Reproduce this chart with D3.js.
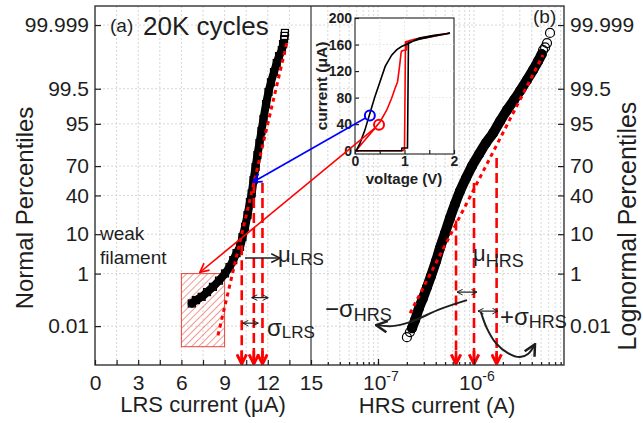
<!DOCTYPE html>
<html>
<head>
<meta charset="utf-8">
<title>LRS / HRS current distributions</title>
<style>
  body { margin: 0; background: #fff; }
  svg { display: block; font-family: "Liberation Sans", Arial, sans-serif; }
</style>
</head>
<body>
<div id="viz"></div>
<script src="https://cdnjs.cloudflare.com/ajax/libs/d3/7.8.5/d3.min.js"></script>
<script>

// ---- data ----
var yTickPct = [0.01, 1, 10, 40, 70, 95, 99.5, 99.999];
var yTickLabels = ["0.01", "1", "10", "40", "70", "95", "99.5", "99.999"];
var lrsTicks = [0, 1.5, 3, 4.5, 6, 7.5, 9, 10.5, 12, 13.5, 15];
var hrsTicks = [1e-7, 1e-6];

// LRS current (uA) vs normal percentile
var lrsCurrent = [6.72, 7.01, 7.41, 7.78, 8.19, 8.61, 9.03, 9.34, 9.60, 9.83, 10.07, 10.24, 10.42, 10.59, 10.76, 10.88,
  11.01, 11.15, 11.28, 11.42, 11.56, 11.70, 11.88, 12.05, 12.22, 12.43, 12.62, 12.78, 12.97, 13.06, 13.13, 13.16, 13.19];
var lrsPct = [0.091, 0.123, 0.163, 0.242, 0.371, 0.60, 1.01, 1.56, 2.45, 3.73, 5.3, 8.7, 13.9, 21.9, 33.4, 42.1,
  56.1, 69.1, 79.3, 87.2, 92.7, 96.2, 98.5, 99.36, 99.70, 99.873, 99.944, 99.971, 99.984, 99.9915, 99.995, 99.9965, 99.9975];

// HRS current (A) vs lognormal percentile
var hrsCurrent = [2.00e-7, 2.15e-7, 2.26e-7, 2.43e-7, 2.67e-7, 2.94e-7, 3.24e-7, 3.56e-7, 4.02e-7, 4.42e-7, 4.99e-7,
  5.62e-7, 6.34e-7, 7.15e-7, 8.26e-7, 9.53e-7, 1.13e-6, 1.33e-6, 1.58e-6, 1.87e-6, 2.21e-6, 2.61e-6, 3.01e-6,
  3.56e-6, 4.12e-6, 4.65e-6, 5.07e-6, 5.24e-6, 5.50e-6, 5.76e-6, 6.19e-6];
var hrsPct = [0.0030, 0.0053, 0.0081, 0.0185, 0.0594, 0.146, 0.363, 0.836, 2.30, 4.95, 10.5,
  19.7, 31.5, 44.5, 58.2, 70.0, 80.0, 87.2, 91.9, 95.7, 97.8, 98.86, 99.40,
  99.75, 99.893, 99.953, 99.976, 99.984, 99.988, 99.9924, 99.9975];

// fits (end points of the red dotted lines)
var lrsFitCurrent = [8.54, 13.33], lrsFitPct = [0.0037, 99.993];
var hrsFitCurrent = [2.16e-7, 5.24e-6], hrsFitPct = [0.037, 99.974];

// mu - sigma, mu, mu + sigma markers
var lrsMarkCurrent = [10.19, 11.03, 11.63], lrsMarkTopPct = [5.8, 53, 53];
var hrsMarkCurrent = [6.5e-7, 1.0e-6, 1.72e-6], hrsMarkTopPct = [18, 53, 77];

// weak filament box
var weakBoxCurrent = [6, 9], weakBoxPct = [0.001, 1];

// inset I-V (V, uA)
var ivBlackV = [0, 0.94, 0.95, 1.06, 1.08, 1.3, 1.6, 1.92, 1.6, 1.3, 1.09, 0.94, 0.84, 0.74, 0.61, 0.505, 0.40, 0.30, 0.20, 0.10, 0.03, 0];
var ivBlackI = [0, 0, 4, 4, 163, 168, 173, 177, 174, 170, 162, 157, 152, 144, 127, 104, 81, 56, 31, 11, 1, 0];
var ivRedV = [0, 0.97, 1.0, 1.02, 1.2, 1.5, 1.9, 1.5, 1.1, 1.05, 1.04, 0.97, 0.94, 0.93, 0.90, 0.86, 0.81, 0.74, 0.64, 0.51, 0.37, 0.20, 0.03, 0];
var ivRedI = [0, 0, 2, 164, 168, 172, 177, 171, 166, 164, 152, 151, 150, 147, 127, 104, 94, 79, 61, 44, 31, 16, 1, 0];
var blueCircle = [0.30, 53], redCircle = [0.485, 39];
var blueTarget = [10.97, 54], redTarget = [7.29, 1.1];

// annotation arrows
var muLrsArrow = [[10.42, 2.77], [12.85, 2.77]];
var sdLrsArrows = [[[10.88, 0.152], [12.03, 0.152]], [[10.26, 0.0136], [11.34, 0.0136]]];
var sdHrsArrows = [[[6.65e-7, 0.242], [1.075e-6, 0.242]], [[1.10e-6, 0.0449], [1.78e-6, 0.0449]]];
var minusArrow = [[8.45e-7, 0.122], [4.43e-7, 0.054], [2.15e-7, 0.0151], [1.40e-7, 0.0100], [9.53e-8, 0.0111]];
var plusArrow = [[1.18e-6, 0.0407], [1.36e-6, 0.0081], [1.69e-6, 0.00152], [2.26e-6, 0.00046], [3.01e-6, 0.00028], [3.65e-6, 0.00041], [4.32e-6, 0.00134]];

// inverse normal CDF (Acklam)
function probit(p) {
  var a = [-3.969683028665376e+01, 2.209460984245205e+02, -2.759285104469687e+02, 1.383577518672690e+02, -3.066479806614716e+01, 2.506628277459239e+00];
  var b = [-5.447609879822406e+01, 1.615858368580409e+02, -1.556989798598866e+02, 6.680131188771972e+01, -1.328068155288572e+01];
  var c = [-7.784894002430293e-03, -3.223964580411365e-01, -2.400758277161838e+00, -2.549732539343734e+00, 4.374664141464968e+00, 2.938163982698783e+00];
  var d = [7.784695709041462e-03, 3.224671290700398e-01, 2.445134137142996e+00, 3.754408661907416e+00];
  var q, r;
  if (p < 0.02425) {
    q = Math.sqrt(-2 * Math.log(p));
    return (((((c[0]*q+c[1])*q+c[2])*q+c[3])*q+c[4])*q+c[5]) / ((((d[0]*q+d[1])*q+d[2])*q+d[3])*q+1);
  }
  if (p <= 1 - 0.02425) {
    q = p - 0.5; r = q * q;
    return (((((a[0]*r+a[1])*r+a[2])*r+a[3])*r+a[4])*r+a[5])*q / (((((b[0]*r+b[1])*r+b[2])*r+b[3])*r+b[4])*r+1);
  }
  q = Math.sqrt(-2 * Math.log(1 - p));
  return -(((((c[0]*q+c[1])*q+c[2])*q+c[3])*q+c[4])*q+c[5]) / ((((d[0]*q+d[1])*q+d[2])*q+d[3])*q+1);
}

var width = 643, height = 423;
var plotLeft = 95, plotMid = 311, plotRight = 564, plotTop = 6, plotBottom = 365;
var ink = "#1e1e1e", red = "#ff0000";

var svg = d3.select("#viz").append("svg").attr("width", width).attr("height", height);
svg.append("rect").attr("width", width).attr("height", height).attr("fill", "#fff");

var xL = d3.scaleLinear().domain([0, 15]).range([plotLeft, plotMid]);
var xH = d3.scaleLog().domain([Math.pow(10, -7.698), Math.pow(10, -5.0625)]).range([plotMid, plotRight]);
var yZ = d3.scaleLinear().domain([-4.75, 4.77]).range([plotBottom, plotTop]);
function yP(p) { return yZ(probit(p / 100)); }

var xI = d3.scaleLinear().domain([0, 2]).range([355, 454]);
var yI = d3.scaleLinear().domain([-5, 200]).range([154, 18]);

var hrsMinor = [];
[-8, -7, -6].forEach(function (e) {
  for (var m = 1; m <= 9; m++) {
    var v = m * Math.pow(10, e);
    if (xH(v) > plotMid + 1 && xH(v) < plotRight - 1) hrsMinor.push(v);
  }
});

// markers
var defs = svg.append("defs");
function marker(id, color, size, sw) {
  defs.append("marker").attr("id", id).attr("viewBox", "0 0 10 10")
    .attr("refX", 9).attr("refY", 5).attr("markerWidth", size).attr("markerHeight", size)
    .attr("markerUnits", "userSpaceOnUse").attr("orient", "auto-start-reverse")
    .append("path").attr("d", "M1,1 L9,5 L1,9").attr("fill", "none")
    .attr("stroke", color).attr("stroke-width", sw);
}
marker("hRed", red, 11, 1.6);
marker("hRedBig", red, 12, 2.4);
marker("hBlue", "#0000ff", 11, 1.6);
marker("hBlack", ink, 11, 1.4);
marker("hBlackS", ink, 7, 1.4);
marker("hBlackBig", ink, 14, 1.8);

var pat = defs.append("pattern").attr("id", "hatch").attr("patternUnits", "userSpaceOnUse")
  .attr("width", 5).attr("height", 5).attr("patternTransform", "rotate(45)");
pat.append("line").attr("x1", 0).attr("y1", 0).attr("x2", 0).attr("y2", 5)
  .attr("stroke", "#e5473c").attr("stroke-width", 1.1);

// grid
var grid = svg.append("g").attr("stroke", "#cdcdcd").attr("stroke-width", 0.8).attr("stroke-dasharray", "2,2");
yTickPct.forEach(function (p) {
  grid.append("line").attr("x1", plotLeft).attr("x2", plotRight).attr("y1", yP(p)).attr("y2", yP(p));
});
lrsTicks.slice(1, -1).forEach(function (v) {
  grid.append("line").attr("x1", xL(v)).attr("x2", xL(v)).attr("y1", plotTop).attr("y2", plotBottom);
});
hrsMinor.forEach(function (v) {
  grid.append("line").attr("x1", xH(v)).attr("x2", xH(v)).attr("y1", plotTop).attr("y2", plotBottom);
});

// weak filament box
svg.append("rect")
  .attr("x", xL(weakBoxCurrent[0])).attr("y", yP(weakBoxPct[1]))
  .attr("width", xL(weakBoxCurrent[1]) - xL(weakBoxCurrent[0]))
  .attr("height", yP(weakBoxPct[0]) - yP(weakBoxPct[1]))
  .attr("fill", "url(#hatch)").attr("stroke", "#e5473c").attr("stroke-width", 1);

// LRS data
var lrsIdx = d3.range(lrsCurrent.length);
var lrsBand = lrsIdx.filter(function (i) { return lrsPct[i] <= 99.992; });
svg.append("path")
  .attr("d", d3.line().x(function (i) { return xL(lrsCurrent[i]); }).y(function (i) { return yP(lrsPct[i]); }).curve(d3.curveCatmullRom)(lrsBand))
  .attr("fill", "none").attr("stroke", "#000").attr("stroke-width", 8).attr("stroke-linecap", "round");
svg.append("g").selectAll("rect").data(lrsIdx).enter().append("rect")
  .attr("x", function (i) { return xL(lrsCurrent[i]) - 3.5; })
  .attr("y", function (i) { return yP(lrsPct[i]) - 3.5; })
  .attr("width", 7).attr("height", 7)
  .attr("fill", "none").attr("stroke", "#000").attr("stroke-width", 1.2);

// HRS data
var hrsIdx = d3.range(hrsCurrent.length);
var hrsBand = hrsIdx.filter(function (i) { return hrsPct[i] >= 0.008 && hrsPct[i] <= 99.98; });
svg.append("path")
  .attr("d", d3.line().x(function (i) { return xH(hrsCurrent[i]); }).y(function (i) { return yP(hrsPct[i]); }).curve(d3.curveCatmullRom)(hrsBand))
  .attr("fill", "none").attr("stroke", "#000").attr("stroke-width", 10).attr("stroke-linecap", "round");
svg.append("g").selectAll("circle").data(hrsIdx).enter().append("circle")
  .attr("cx", function (i) { return xH(hrsCurrent[i]); })
  .attr("cy", function (i) { return yP(hrsPct[i]); })
  .attr("r", 4.5)
  .attr("fill", "none").attr("stroke", "#000").attr("stroke-width", 1.2);

// fits
svg.append("line")
  .attr("x1", xL(lrsFitCurrent[0])).attr("y1", yP(lrsFitPct[0]))
  .attr("x2", xL(lrsFitCurrent[1])).attr("y2", yP(lrsFitPct[1]))
  .attr("stroke", red).attr("stroke-width", 3).attr("stroke-dasharray", "4,4");
svg.append("line")
  .attr("x1", xH(hrsFitCurrent[0])).attr("y1", yP(hrsFitPct[0]))
  .attr("x2", xH(hrsFitCurrent[1])).attr("y2", yP(hrsFitPct[1]))
  .attr("stroke", red).attr("stroke-width", 3).attr("stroke-dasharray", "4,4");

// dashed mu / sigma markers
function dropLines(xs, tops, sx) {
  xs.forEach(function (v, i) {
    svg.append("line").attr("x1", sx(v)).attr("x2", sx(v))
      .attr("y1", yP(tops[i])).attr("y2", plotBottom - 4)
      .attr("stroke", red).attr("stroke-width", 2.6).attr("stroke-dasharray", "10,5");
    svg.append("line").attr("x1", sx(v)).attr("x2", sx(v))
      .attr("y1", plotBottom - 14).attr("y2", plotBottom - 1)
      .attr("stroke", red).attr("stroke-width", 2.6).attr("marker-end", "url(#hRedBig)");
  });
}
dropLines(lrsMarkCurrent, lrsMarkTopPct, xL);
dropLines(hrsMarkCurrent, hrsMarkTopPct, xH);

// frame
svg.append("rect").attr("x", plotLeft).attr("y", plotTop).attr("width", plotRight - plotLeft).attr("height", plotBottom - plotTop)
  .attr("fill", "none").attr("stroke", "#333").attr("stroke-width", 1.4);
svg.append("line").attr("x1", plotMid).attr("x2", plotMid).attr("y1", plotTop).attr("y2", plotBottom)
  .attr("stroke", "#333").attr("stroke-width", 1.2);

// axes
function styleAxis(g, size) {
  g.select(".domain").remove();
  g.attr("font-size", size).attr("font-family", "Liberation Sans, Arial, sans-serif").attr("color", ink);
  g.selectAll(".tick line").attr("stroke-width", 1.2);
}
svg.append("g").attr("transform", "translate(0," + plotBottom + ")")
  .call(d3.axisBottom(xL).tickValues(lrsTicks).tickSizeInner(-5).tickSizeOuter(0).tickPadding(10)
    .tickFormat(function (d) { return d % 3 === 0 ? d : ""; }))
  .call(styleAxis, 21);
svg.append("g").attr("transform", "translate(0," + plotBottom + ")")
  .call(d3.axisBottom(xH).tickValues(hrsMinor).tickSizeInner(-3).tickSizeOuter(0).tickFormat(function () { return ""; }))
  .call(styleAxis, 21);
svg.append("g").attr("transform", "translate(0," + plotBottom + ")")
  .call(d3.axisBottom(xH).tickValues(hrsTicks).tickSizeInner(-6).tickSizeOuter(0).tickFormat(function () { return ""; }))
  .call(styleAxis, 21);
hrsTicks.forEach(function (v) {
  var t = svg.append("text").attr("x", xH(v) - 15).attr("y", 390).attr("font-size", 21).attr("fill", ink);
  t.append("tspan").text("10");
  t.append("tspan").attr("font-size", 14).attr("dy", -9).text(String(Math.round(Math.log10(v))));
});
var zTicks = yTickPct.map(function (p) { return probit(p / 100); });
svg.append("g").attr("transform", "translate(" + plotLeft + ",0)")
  .call(d3.axisLeft(yZ).tickValues(zTicks).tickSizeInner(-6).tickSizeOuter(0).tickPadding(6)
    .tickFormat(function (d, i) { return yTickLabels[i]; }))
  .call(styleAxis, 21);
svg.append("g").attr("transform", "translate(" + plotRight + ",0)")
  .call(d3.axisRight(yZ).tickValues(zTicks).tickSizeInner(-6).tickSizeOuter(0).tickPadding(6)
    .tickFormat(function (d, i) { return yTickLabels[i]; }))
  .call(styleAxis, 21);

// inset
var inset = svg.append("g");
inset.append("rect").attr("x", xI(0)).attr("y", yI(200)).attr("width", xI(2) - xI(0)).attr("height", yI(-5) - yI(200))
  .attr("fill", "#fff").attr("stroke", ink).attr("stroke-width", 1.1);
var ig = inset.append("g").attr("stroke", "#dadada").attr("stroke-width", 0.7).attr("stroke-dasharray", "1.5,2");
[40, 80, 120, 160].forEach(function (v) {
  ig.append("line").attr("x1", xI(0)).attr("x2", xI(2)).attr("y1", yI(v)).attr("y2", yI(v));
});
[0.5, 1, 1.5].forEach(function (v) {
  ig.append("line").attr("x1", xI(v)).attr("x2", xI(v)).attr("y1", yI(200)).attr("y2", yI(-5));
});
inset.append("g").attr("transform", "translate(" + xI(0) + ",0)")
  .call(d3.axisLeft(yI).tickValues([0, 40, 80, 120, 160, 200]).tickSizeInner(-4).tickSizeOuter(0).tickPadding(3))
  .call(styleAxis, 14).attr("font-weight", "bold");
inset.append("g").attr("transform", "translate(0," + yI(-5) + ")")
  .call(d3.axisBottom(xI).tickValues([0, 0.5, 1, 1.5, 2]).tickSizeInner(-4).tickSizeOuter(0).tickPadding(2)
    .tickFormat(function (d) { return Number.isInteger(d) ? d : ""; }))
  .call(styleAxis, 14).attr("font-weight", "bold");

function ivLine(V, I) {
  return d3.line().x(function (i) { return xI(V[i]); }).y(function (i) { return yI(I[i]); })(d3.range(V.length));
}
inset.append("path").attr("d", ivLine(ivRedV, ivRedI)).attr("fill", "none").attr("stroke", red).attr("stroke-width", 1.6);
inset.append("path").attr("d", ivLine(ivBlackV, ivBlackI)).attr("fill", "none").attr("stroke", "#000").attr("stroke-width", 1.6);
inset.append("text").attr("transform", "translate(327,86) rotate(-90)").attr("text-anchor", "middle")
  .attr("font-size", 15.5).attr("font-weight", "bold").attr("fill", ink).text("current (\u03bcA)");
inset.append("text").attr("x", 404).attr("y", 184).attr("text-anchor", "middle")
  .attr("font-size", 15).attr("font-weight", "bold").attr("fill", ink).text("voltage (V)");

// arrows from inset circles
function pointer(circle, target, color, mk) {
  var x1 = xI(circle[0]), y1 = yI(circle[1]);
  var x2 = xL(target[0]), y2 = yP(target[1]);
  var len = Math.hypot(x2 - x1, y2 - y1), r = 5;
  svg.append("line").attr("x1", x1 + (x2 - x1) * r / len).attr("y1", y1 + (y2 - y1) * r / len)
    .attr("x2", x2).attr("y2", y2).attr("stroke", color).attr("stroke-width", 1.6)
    .attr("marker-end", "url(#" + mk + ")");
  svg.append("circle").attr("cx", x1).attr("cy", y1).attr("r", r)
    .attr("fill", "none").attr("stroke", color).attr("stroke-width", 2);
}
pointer(blueCircle, blueTarget, "#0000ff", "hBlue");
pointer(redCircle, redTarget, red, "hRed");

// black annotation arrows
function seg(pts, sx, mkStart, mkEnd, sw) {
  var p = svg.append("line")
    .attr("x1", sx(pts[0][0])).attr("y1", yP(pts[0][1]))
    .attr("x2", sx(pts[1][0])).attr("y2", yP(pts[1][1]))
    .attr("stroke", ink).attr("stroke-width", sw);
  if (mkStart) p.attr("marker-start", "url(#" + mkStart + ")");
  if (mkEnd) p.attr("marker-end", "url(#" + mkEnd + ")");
}
seg(muLrsArrow, xL, null, "hBlack", 1.5);
sdLrsArrows.forEach(function (a) { seg(a, xL, "hBlackS", "hBlackS", 1.2); });
sdHrsArrows.forEach(function (a) { seg(a, xH, "hBlackS", "hBlackS", 1.2); });
function curveArrow(pts) {
  svg.append("path")
    .attr("d", d3.line().x(function (d) { return xH(d[0]); }).y(function (d) { return yP(d[1]); }).curve(d3.curveCatmullRom)(pts))
    .attr("fill", "none").attr("stroke", ink).attr("stroke-width", 2)
    .attr("marker-end", "url(#hBlackBig)");
}
curveArrow(minusArrow);
curveArrow(plusArrow);

// text
function label(x, y, size, str) {
  return svg.append("text").attr("x", x).attr("y", y).attr("font-size", size).attr("fill", ink).text(str);
}
label(110, 32, 19, "(a)");
label(143, 35, 26, "20K cycles");
label(533, 23, 19, "(b)");
label(100, 240, 19, "weak");
label(100, 264, 19, "filament");

function sub(x, y, main, subTxt, size, subSize, dy) {
  var t = svg.append("text").attr("x", x).attr("y", y).attr("font-size", size).attr("fill", ink);
  t.append("tspan").text(main);
  t.append("tspan").attr("font-size", subSize).attr("dy", dy).text(subTxt);
}
sub(278, 262, "\u03bc", "LRS", 22, 17, 3);
sub(267, 336, "\u03c3", "LRS", 24, 17, 2);
sub(473, 261, "\u03bc", "HRS", 22, 18, 6);
sub(325, 317, "\u2212\u03c3", "HRS", 24, 18, 4);
sub(500, 325, "+\u03c3", "HRS", 24, 18, 3);

svg.append("text").attr("x", 203).attr("y", 412).attr("text-anchor", "middle").attr("font-size", 22).attr("fill", ink)
  .text("LRS current (\u03bcA)");
svg.append("text").attr("x", 437).attr("y", 413).attr("text-anchor", "middle").attr("font-size", 22).attr("fill", ink)
  .text("HRS current (A)");
svg.append("text").attr("transform", "translate(33,208) rotate(-90)").attr("text-anchor", "middle")
  .attr("font-size", 24).attr("fill", ink).text("Normal Percentiles");
svg.append("text").attr("transform", "translate(636,226) rotate(-90)").attr("text-anchor", "middle")
  .attr("font-size", 25).attr("fill", ink).text("Lognormal Percentiles");

</script>
</body>
</html>
